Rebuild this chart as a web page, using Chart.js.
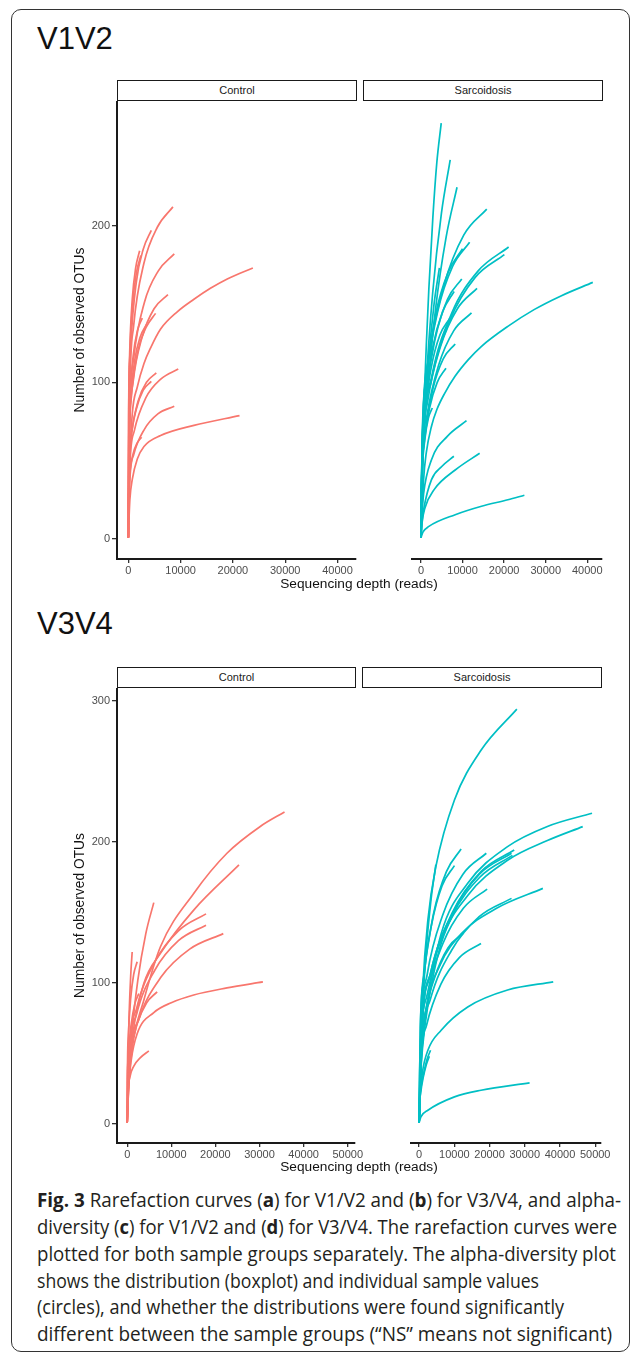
<!DOCTYPE html>
<html>
<head>
<meta charset="utf-8">
<script src="https://cdn.jsdelivr.net/npm/chart.js@4.4.1/dist/chart.umd.min.js"></script>
<style>
  html, body { margin:0; padding:0; background:#fff; }
  body { width:636px; height:1355px; position:relative; overflow:hidden; font-family:"Liberation Sans", Arial, sans-serif; }
  .frame { position:absolute; left:11px; top:9px; width:619px; height:1343px; border:1.5px solid #333; border-radius:10px; box-sizing:border-box; }
  .title { position:absolute; left:37px; font-size:31px; line-height:31px; color:#111; }
  .strip { position:absolute; height:21px; border:1.5px solid #1a1a1a; box-sizing:border-box; font-size:11px; line-height:18px; text-align:center; color:#1a1a1a; background:#fff; }
  .xtitle { position:absolute; width:300px; left:209px; text-align:center; font-size:13.7px; line-height:16px; color:#111; }
  canvas { position:absolute; }
  .cap { position:absolute; left:37px; font-family:"Open Sans", "Noto Sans", sans-serif; font-size:19.5px; line-height:24px; color:#231f20; white-space:nowrap; transform-origin:0 50%; }
  .cap b { font-weight:700; }
</style>
</head>
<body>
<div class="frame"></div>

<div class="title" style="top:23px">V1V2</div>
<div class="strip" style="left:117px; top:80px; width:240px;">Control</div>
<div class="strip" style="left:363px; top:80px; width:240px;">Sarcoidosis</div>
<canvas id="c12a" width="310" height="482" style="left:68px; top:101px;"></canvas>
<canvas id="c12b" width="271" height="482" style="left:353px; top:101px;"></canvas>
<div class="xtitle" style="top:576px; left:209px;">Sequencing depth (reads)</div>

<div class="title" style="top:608px">V3V4</div>
<div class="strip" style="left:117px; top:667px; width:239px;">Control</div>
<div class="strip" style="left:362px; top:667px; width:240px;">Sarcoidosis</div>
<canvas id="c34a" width="311" height="479" style="left:68px; top:688px;"></canvas>
<canvas id="c34b" width="273" height="479" style="left:352px; top:688px;"></canvas>
<div class="xtitle" style="top:1159px; left:209px;">Sequencing depth (reads)</div>

<div class="cap" data-w="584" style="top:1188px"><b>Fig. 3</b> Rarefaction curves (<b>a</b>) for V1/V2 and (<b>b</b>) for V3/V4, and alpha-</div>
<div class="cap" data-w="580" style="top:1215px">diversity (<b>c</b>) for V1/V2 and (<b>d</b>) for V3/V4. The rarefaction curves were</div>
<div class="cap" data-w="579" style="top:1242px">plotted for both sample groups separately. The alpha-diversity plot</div>
<div class="cap" data-w="502" style="top:1269px">shows the distribution (boxplot) and individual sample values</div>
<div class="cap" data-w="527" style="top:1295px">(circles), and whether the distributions were found significantly</div>
<div class="cap" data-w="575" style="top:1322px">different between the sample groups (“NS” means not significant)</div>

<script>
// ---------------- DATA ----------------
const panelNames = ["Control", "Sarcoidosis"];
const yAxisTitle = "Number of observed OTUs";
const xAxisTitle = "Sequencing depth (reads)";

// axis limits (ggplot expanded) and tick values
const v12XRange = [-2160, 43540];
const v12YRange = [-12.8, 279.6];
const v34XRange = [-2310, 51650];
const v34YRange = [-13.5, 309.2];
const v12XTicks = [0, 10000, 20000, 30000, 40000];
const v12YTicks = [0, 100, 200];
const v34XTicks = [0, 10000, 20000, 30000, 40000, 50000];
const v34YTicks = [0, 100, 200, 300];

// each curve: [reads, observed OTUs] points
const v12ControlCurves = [
  [[0,1],[256,89],[1024,136],[2987,176],[5548,199],[8535,212]],
  [[0,1],[132,83],[527,126],[1538,164],[2857,185],[4395,197]],
  [[0,1],[65,77],[260,118],[758,153],[1408,173],[2166,184]],
  [[0,1],[72,76],[288,116],[840,150],[1560,170],[2400,181]],
  [[0,1],[264,76],[1055,116],[3077,151],[5714,171],[8790,182]],
  [[0,1],[300,50],[764,80],[1720,97],[3000,112],[4270,122],[6180,134],[9360,145],[12550,153],[15700,160],[18920,166],[23820,173]],
  [[0,1],[227,66],[910,100],[2653,129],[4927,147],[7580,156]],
  [[0,1],[157,60],[626,92],[1827,120],[3393,135],[5220,144]],
  [[0,1],[105,58],[420,88],[1225,114],[2275,129],[3500,137]],
  [[0,1],[80,59],[321,90],[936,117],[1739,133],[2675,141]],
  [[0,1],[287,46],[1146,69],[3343,90],[6208,102],[9550,108.5]],
  [[0,1],[160,45],[642,68],[1873,88],[3478,100],[5350,106]],
  [[0,1],[132,42],[527,64],[1538,83],[2857,95],[4395,100.6]],
  [[0,1],[264,36],[1055,54],[3077,70],[5714,80],[8790,84.7]],
  [[0,1],[300,25],[764,38],[1720,51],[3000,59],[6180,66],[12550,72.5],[21270,78.7]],
  [[0,1],[77,27],[306,42],[893,54],[1658,61],[2550,65]]
];

const v12SarcCurves = [
  [[0,1],[250,45],[760,88],[1270,123],[1900,160],[2850,205],[3800,240],[4870,265.5]],
  [[0,1],[211,48],[1055,92],[2812,157],[4921,208],[7030,242]],
  [[0,1],[260,45],[1300,85],[3468,146],[6069,193],[8670,224.5]],
  [[0,1],[475,74],[1898,116],[5537,162],[10283,194],[15820,210.6]],
  [[0,1],[351,66],[1404,104],[4095,146],[7605,174],[11700,189.4]],
  [[0,1],[300,65],[1200,102],[3500,143],[6500,170],[10000,185.3]],
  [[0,1],[632,65],[2530,103],[7378,144],[13702,171],[21080,186.4]],
  [[0,1],[602,64],[2407,100],[7021,140],[13039,167],[20060,181.5]],
  [[0,1],[133,35],[665,66],[1772,112],[3101,149],[4430,173]],
  [[0,1],[294,58],[1177,91],[3434,128],[6377,153],[9810,166]],
  [[0,1],[404,56],[1618,88],[4718,123],[8762,147],[13480,160]],
  [[0,1],[239,55],[956,87],[2790,122],[5181,145],[7970,158]],
  [[0,1],[633,38],[1270,55],[2530,72],[3800,82.5],[5700,93],[8230,104],[11390,114.5],[14560,123],[20890,135.7],[27200,146.4],[33540,155],[41330,163.8]],
  [[0,1],[365,51],[1458,79],[4253,111],[7898,133],[12150,144.3]],
  [[0,1],[209,49],[835,78],[2436,109],[4524,130],[6960,141]],
  [[0,1],[247,44],[988,68],[2881,96],[5350,115],[8230,124.5]],
  [[0,1],[180,38],[721,60],[2104,84],[3907,100],[6010,109]],
  [[0,1],[82,29],[326,46],[952,64],[1768,77],[2720,83.6]],
  [[0,1],[200,15],[633,29],[2530,50.6],[6330,65.5],[10950,75.5]],
  [[0,1],[200,10],[633,18.7],[2530,37.9],[5060,46.4],[7910,52.8]],
  [[0,1],[300,11],[950,19.8],[3160,31.5],[8230,44],[14110,54.7]],
  [[0,1],[500,4.5],[1900,8],[8230,15.5],[14560,20.9],[20890,25],[24870,27.9]]
];

const v34ControlCurves = [
  [[0,1],[400,30],[1200,55],[3770,87.8],[7540,125.7],[15080,163.5],[22620,192],[30170,211],[35670,221.3]],
  [[0,1],[400,35],[1200,62],[3770,99.6],[7540,121],[15080,151.7],[25340,183.7]],
  [[0,1],[536,52],[2144,82],[6255,115],[11616,137],[17870,149]],
  [[0,1],[536,49],[2144,78],[6255,109],[11616,130],[17870,141]],
  [[0,1],[654,47],[2615,74],[7627,104],[14164,124],[21790,135]],
  [[0,1],[300,25],[900,45],[2260,64],[6030,79],[10000,86],[15080,91.5],[22620,96.5],[30770,100.8]],
  [[0,1],[181,31],[905,60],[2412,102],[4221,135],[6030,157]],
  [[0,1],[34,24],[170,46],[452,79],[791,105],[1130,122]],
  [[0,1],[68,40],[271,63],[791,89],[1469,106],[2260,115]],
  [[0,1],[204,33],[815,52],[2377,72],[4414,86],[6790,93.7]],
  [[0,1],[79,32],[317,51],[924,71],[1716,85],[2640,92.5]],
  [[0,1],[150,20],[600,33],[1500,41],[3000,47],[4900,51.8]]
];

const v34SarcCurves = [
  [[0,1],[300,45],[1000,95],[2500,145],[4750,182.5],[10030,229.8],[17570,265],[27750,294.2]],
  [[0,1],[400,35],[1000,58],[2490,87.8],[6260,135],[13800,170.7],[25110,196.7],[36420,211],[49100,220.4]],
  [[0,1],[400,33],[1000,55],[2490,84],[6260,128],[13800,162],[25110,187],[36420,201],[46460,210.9]],
  [[0,1],[358,68],[1430,107],[4172,150],[7748,179],[11920,195]],
  [[0,1],[572,67],[2290,106],[6678,148],[12402,177],[19080,192]],
  [[0,1],[301,64],[1204,101],[3511,141],[6520,169],[10030,183.2]],
  [[0,1],[810,68],[3240,107],[9450,150],[17550,179],[27000,194.3]],
  [[0,1],[787,67],[3149,106],[9184,148],[17056,177],[26240,192]],
  [[0,1],[795,67],[3180,105],[9275,147],[17225,175],[26500,190.5]],
  [[0,1],[600,50],[2000,82],[6000,113],[12000,135],[22000,153],[35140,167.1]],
  [[0,1],[579,58],[2317,92],[6759,128],[12552,153],[19310,166.6]],
  [[0,1],[787,56],[3149,88],[9184,123],[17056,147],[26240,160]],
  [[0,1],[380,47],[1520,75],[4435,104],[8236,125],[12670,135.6]],
  [[0,1],[527,45],[2108,70],[6150,99],[11421,118],[17570,128]],
  [[0,1],[143,37],[713,70],[1900,120],[3325,158],[4750,184]],
  [[0,1],[300,20],[900,36],[2490,52.3],[6260,66.5],[13800,83],[25110,95],[38080,100.8]],
  [[0,1],[97,14],[486,25],[1296,36],[2268,46],[3240,52.3]],
  [[0,1],[87,12],[435,22],[1160,33],[2030,42],[2900,48]],
  [[0,1],[500,5],[2490,9.7],[10030,19.2],[17570,23.9],[31370,29.1]]
];

const controlColor = "#F8766D";
const sarcColor = "#00BFC4";

// ---------------- CHARTS ----------------
const FONT = '"Liberation Sans", Arial, sans-serif';

function datasets(curves, color) {
  return curves.map(c => ({
    data: c.map(p => ({ x: p[0], y: p[1] })),
    showLine: true,
    borderColor: color,
    backgroundColor: color,
    borderWidth: 1.7,
    pointRadius: 0,
    pointHoverRadius: 0,
    cubicInterpolationMode: 'monotone',
    fill: false
  }));
}

function facet(id, curves, color, xr, yr, xticks, yticks, showY, padL, padR) {
  new Chart(document.getElementById(id), {
    type: 'scatter',
    data: { datasets: datasets(curves, color) },
    options: {
      responsive: false,
      animation: false,
      events: [],
      layout: { padding: { left: padL, right: padR, top: 0, bottom: 0 } },
      plugins: { legend: { display: false }, tooltip: { enabled: false } },
      scales: {
        x: {
          type: 'linear',
          min: xr[0], max: xr[1],
          border: { display: true, color: '#1a1a1a', width: 2 },
          grid: { display: true, drawOnChartArea: false, drawTicks: true, tickLength: 4, color: '#333', lineWidth: 1.3 },
          ticks: {
            autoSkip: false, maxRotation: 0, minRotation: 0,
            color: '#4d4d4d', font: { family: FONT, size: 11 }, padding: 1,
            callback: v => String(v)
          },
          afterBuildTicks: s => { s.ticks = xticks.map(v => ({ value: v })); },
          afterFit: s => { s.height = 24; s.paddingLeft = 0; s.paddingRight = 0; }
        },
        y: {
          type: 'linear',
          display: showY,
          min: yr[0], max: yr[1],
          border: { display: true, color: '#1a1a1a', width: 2 },
          grid: { display: true, drawOnChartArea: false, drawTicks: true, tickLength: 5, color: '#333', lineWidth: 1.3 },
          ticks: {
            autoSkip: false,
            color: '#4d4d4d', font: { family: FONT, size: 11 }, padding: 2,
            callback: v => String(v)
          },
          afterBuildTicks: s => { s.ticks = yticks.map(v => ({ value: v })); },
          title: {
            display: true, text: yAxisTitle, color: '#111',
            font: { family: FONT, size: 13.8 }, padding: { top: 4, bottom: 0 }
          },
          afterFit: s => { s.width = 49; s.paddingTop = 0; s.paddingBottom = 0; }
        }
      }
    }
  });
}

facet('c12a', v12ControlCurves, controlColor, v12XRange, v12YRange, v12XTicks, v12YTicks, true, 0, 22);
facet('c12b', v12SarcCurves, sarcColor, v12XRange, v12YRange, v12XTicks, v12YTicks, false, 10, 22);
facet('c34a', v34ControlCurves, controlColor, v34XRange, v34YRange, v34XTicks, v34YTicks, true, 0, 24);
facet('c34b', v34SarcCurves, sarcColor, v34XRange, v34YRange, v34XTicks, v34YTicks, false, 10, 24);

// fit caption lines to the widths of the original
function fitCaption() {
  document.querySelectorAll('.cap').forEach(el => {
    el.style.transform = 'none';
    const w = el.getBoundingClientRect().width;
    const target = parseFloat(el.dataset.w);
    el.style.transform = 'scaleX(' + (target / w) + ')';
  });
}
fitCaption();
if (document.fonts && document.fonts.ready) document.fonts.ready.then(fitCaption);
</script>
</body>
</html>
